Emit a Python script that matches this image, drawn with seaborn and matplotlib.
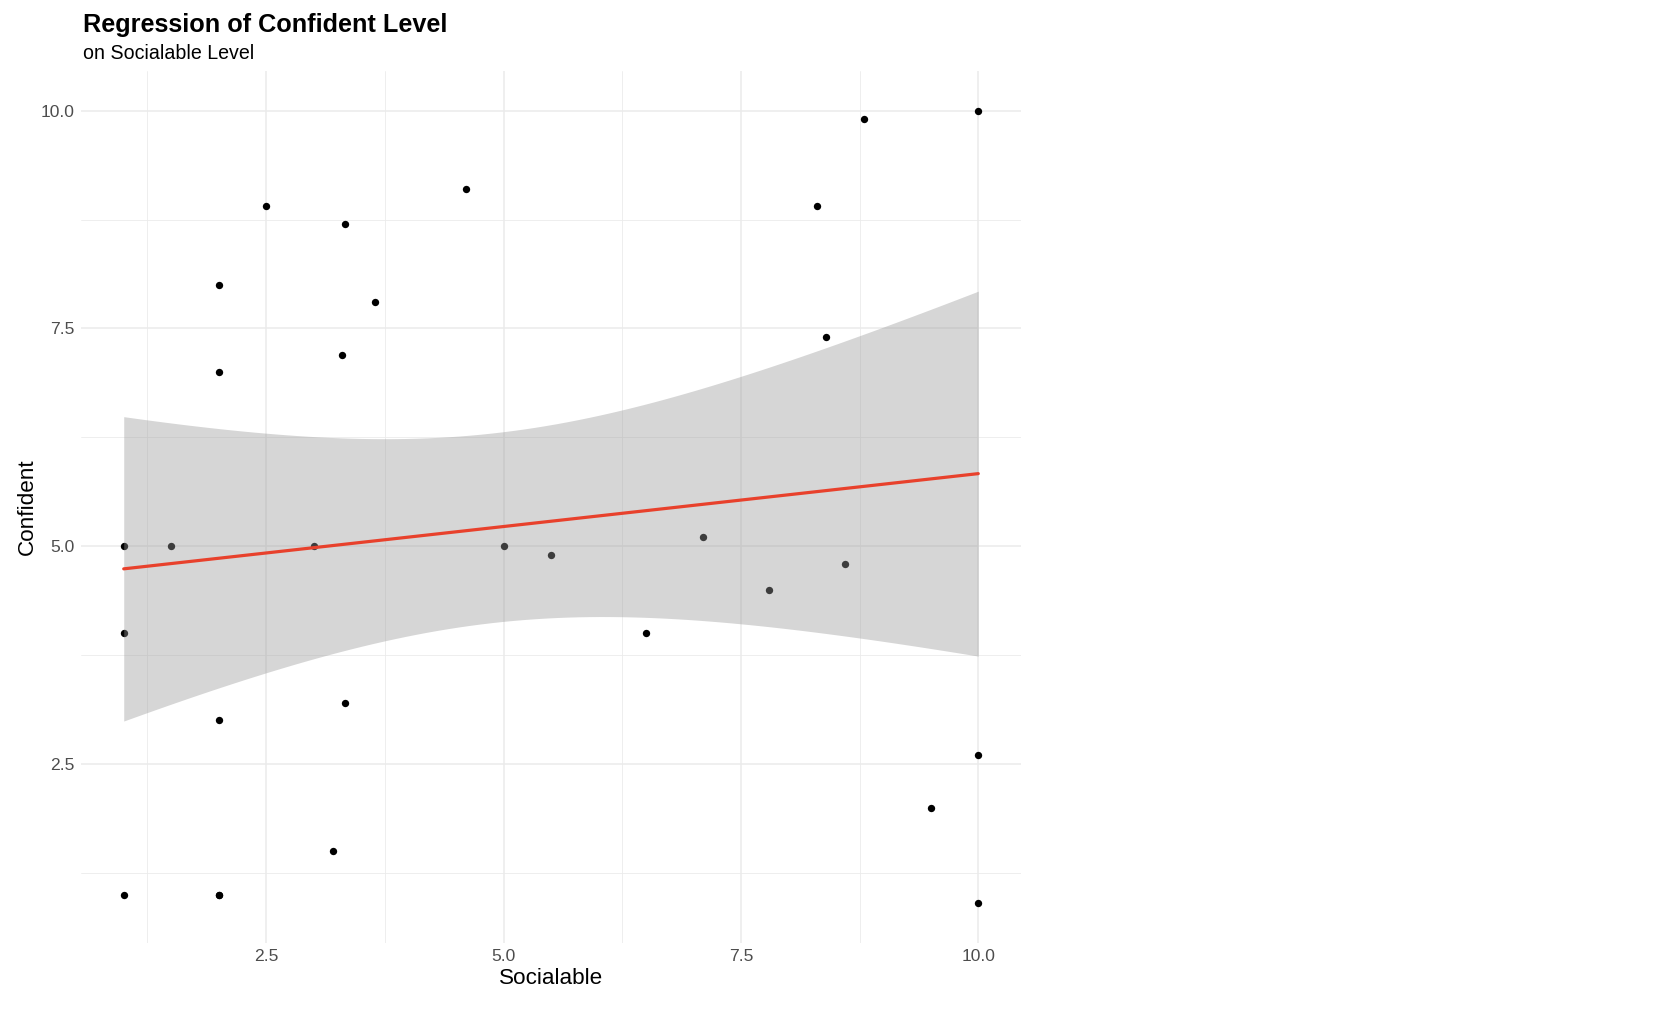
import numpy as np
import pandas as pd
import matplotlib
matplotlib.use("Agg")
import matplotlib.pyplot as plt
import seaborn as sns
from matplotlib.ticker import FixedLocator

# values (one hidden duplicate at (2, 1))
socialable = [1, 1, 1, 1.5, 2, 2, 2, 2, 2, 2.5, 3, 3.2, 3.3, 3.33, 3.33, 3.65,
              4.6, 5, 5.5, 6.5, 7.1, 7.8, 8.3, 8.4, 8.6, 8.8, 9.5, 10, 10, 10]
confident = [5, 4, 1, 5, 8, 7, 3, 1, 1, 8.9, 5, 1.5, 7.2, 8.7, 3.2, 7.8,
             9.1, 5, 4.9, 4, 5.1, 4.5, 8.9, 7.4, 4.8, 9.9, 2, 10, 2.6, 0.9]

x_ticks = [2.5, 5.0, 7.5, 10.0]
x_tick_labels = ["2.5", "5.0", "7.5", "10.0"]
y_ticks = [2.5, 5.0, 7.5, 10.0]
y_tick_labels = ["2.5", "5.0", "7.5", "10.0"]

title = "Regression of Confident Level"
subtitle = "on Socialable Level"

df = pd.DataFrame({"Socialable": socialable, "Confident": confident})

sns.set_style("white")
plt.rcParams["font.family"] = ["Liberation Sans", "DejaVu Sans"]
plt.rcParams["text.color"] = "black"

line_color = "#E8412C"
grid_color = "#EBEBEB"

W, H = 1672, 1014
fig = plt.figure(figsize=(W / 100, H / 100), dpi=100)
ax = fig.add_axes([81 / W, 1 - 943 / H, 940 / W, 872 / H])

sns.scatterplot(data=df, x="Socialable", y="Confident", color="black",
                s=28, linewidth=0, ax=ax, zorder=2)
sns.regplot(data=df, x="Socialable", y="Confident", scatter=False, ci=None,
            color=line_color, line_kws={"linewidth": 2.3, "zorder": 4}, ax=ax)

# analytic 95% band of the lm fit (like geom_smooth), drawn over the points
x = df["Socialable"].to_numpy(float)
y = df["Confident"].to_numpy(float)
n = len(x)
slope, icept = np.polyfit(x, y, 1)
resid = y - (icept + slope * x)
s_err = np.sqrt(np.sum(resid ** 2) / (n - 2))
sxx = np.sum((x - x.mean()) ** 2)
t975 = 2.048  # t quantile, df = 28
xg = np.linspace(x.min(), x.max(), 80)
half = t975 * s_err * np.sqrt(1 / n + (xg - x.mean()) ** 2 / sxx)
fit = icept + slope * xg
ax.fill_between(xg, fit - half, fit + half, color="#999999", alpha=0.4,
                linewidth=0, zorder=3)

xmin, xmax = x.min(), x.max()
ymin, ymax = y.min(), y.max()
xpad = 0.05 * (xmax - xmin)
ypad = 0.05 * (ymax - ymin)
ax.set_xlim(xmin - xpad, xmax + xpad)
ax.set_ylim(ymin - ypad, ymax + ypad)

ax.set_xticks(x_ticks)
ax.set_xticklabels(x_tick_labels)
ax.set_yticks(y_ticks)
ax.set_yticklabels(y_tick_labels)
ax.xaxis.set_minor_locator(FixedLocator([t - 1.25 for t in x_ticks]))
ax.yaxis.set_minor_locator(FixedLocator([t - 1.25 for t in y_ticks]))

ax.set_axisbelow(True)
ax.grid(which="major", color=grid_color, linewidth=1.1)
ax.grid(which="minor", color=grid_color, linewidth=0.6)
for s in ax.spines.values():
    s.set_visible(False)

ax.tick_params(which="both", length=0, labelsize=12.6, labelcolor="#4D4D4D")
ax.tick_params(axis="x", pad=4)
ax.tick_params(axis="y", pad=5)

ax.set_xlabel("Socialable", fontsize=16.2, color="black")
ax.set_ylabel("Confident", fontsize=16.2, color="black")
ax.xaxis.set_label_coords(0.5, -(968 - 943) / 872)
ax.yaxis.set_label_coords(-(81 - 38) / 940, 0.5)

fig.text(83 / W, 1 - 32 / H, title, fontsize=18.2, fontweight="bold",
         va="baseline", ha="left", color="black")
fig.text(83 / W, 1 - 59 / H, subtitle, fontsize=14.1,
         va="baseline", ha="left", color="black")

fig.savefig("out.png", dpi=100)
